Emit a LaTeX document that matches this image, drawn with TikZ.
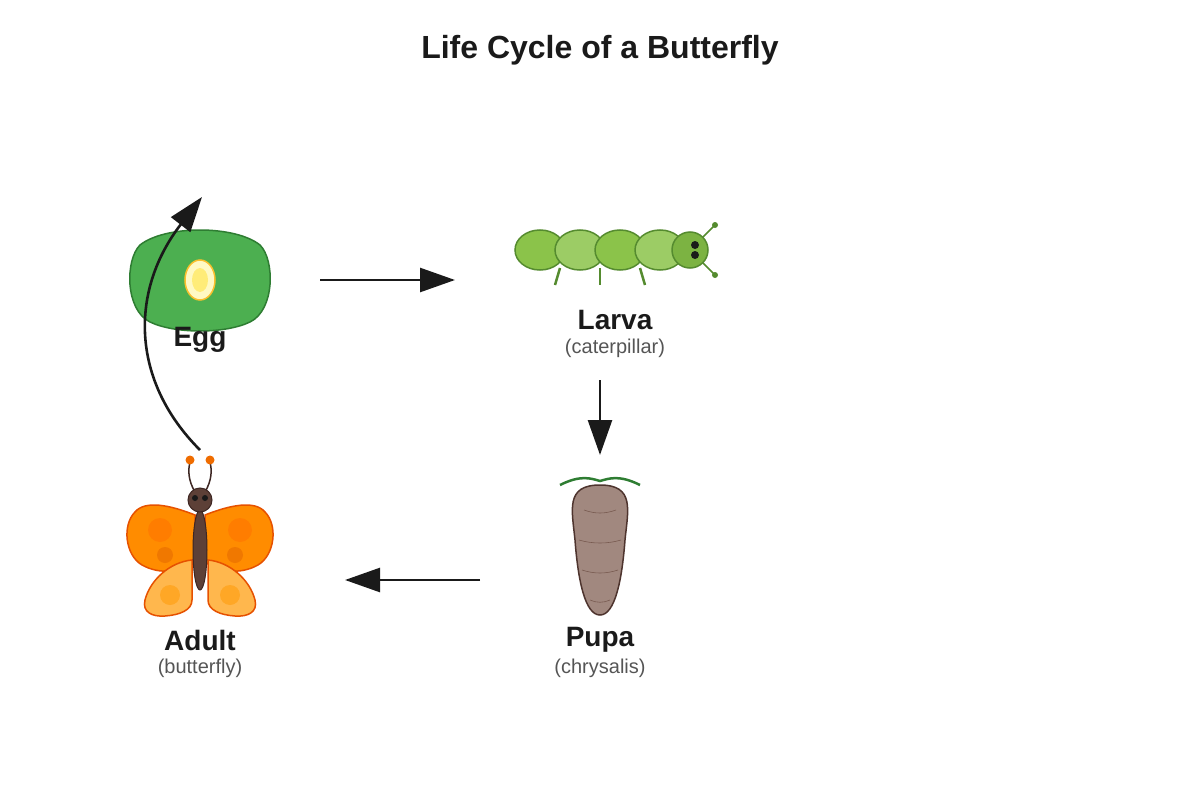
\documentclass[tikz,border=0pt]{standalone}
\usepackage{fontspec}
\setmainfont{Liberation Sans}
\usetikzlibrary{arrows.meta}
\definecolor{txt}{HTML}{1A1A1A}
\definecolor{sub}{HTML}{555555}
\definecolor{eggf}{HTML}{4CAF50}\definecolor{eggd}{HTML}{2E7D32}
\definecolor{yolkf}{HTML}{FFF9C4}\definecolor{yolkd}{HTML}{FBC02D}\definecolor{yolki}{HTML}{FFEC78}
\definecolor{lga}{HTML}{8BC34A}\definecolor{lgb}{HTML}{9CCC65}\definecolor{lgd}{HTML}{558B2F}\definecolor{lgh}{HTML}{7CB342}
\definecolor{pupf}{HTML}{A1887F}\definecolor{pupd}{HTML}{4E342E}\definecolor{pupl}{HTML}{785A50}
\definecolor{wfd}{HTML}{E65100}\definecolor{wf}{HTML}{FF8C00}\definecolor{wsa}{HTML}{FF7D00}\definecolor{wsb}{HTML}{F07800}
\definecolor{wh}{HTML}{FFB74D}\definecolor{whs}{HTML}{FFA726}\definecolor{ant}{HTML}{3E2723}\definecolor{antd}{HTML}{EF6C00}
\definecolor{body}{HTML}{5D4037}
\begin{document}
\begin{tikzpicture}[x=1pt,y=-1pt,
  flow/.style={line width=2.6pt,draw=txt,-{Triangle[length=35pt,width=24pt]}},
  lbl/.style={font=\bfseries\fontsize{28}{30}\selectfont,text=txt},
  sublbl/.style={font=\fontsize{20}{22}\selectfont,text=sub}]
\useasboundingbox (0,0) rectangle (1200,800);
\node[font=\bfseries\fontsize{32}{34}\selectfont,text=txt] (title) at (600,50) {Life Cycle of a Butterfly};
% Egg
\filldraw[fill=eggf,draw=eggd,line width=1.5pt]
 (140,245) .. controls (165,225) and (235,225) .. (260,245) .. controls (275,260) and (275,310) .. (250,322)
 .. controls (225,334) and (175,334) .. (150,322) .. controls (125,310) and (125,260) .. (140,245) -- cycle;
\filldraw[fill=yolkf,draw=yolkd,line width=1.5pt] (200,280) ellipse [x radius=15,y radius=20];
\fill[yolki] (200,280) ellipse [x radius=8,y radius=12];
\node[lbl] (egg) at (200,340) {Egg};
% Larva
\foreach \x/\c in {540/lga,580/lgb,620/lga,660/lgb}{
  \filldraw[fill=\c,draw=lgd,line width=1.5pt] (\x,250) ellipse [x radius=25,y radius=20];}
\begin{scope}[draw=lgd,line width=2.5pt]
\draw (560,268) -- (555,285); \draw (600,268) -- (600,285); \draw (640,268) -- (645,285);
\draw[line width=1.5pt] (702,238) -- (715,225); \draw[line width=1.5pt] (702,262) -- (715,275);
\end{scope}
\fill[lgd] (715,225) circle (3) (715,275) circle (3);
\filldraw[fill=lgh,draw=lgd,line width=1.5pt] (690,250) circle (18);
\fill[txt] (695,245) circle (4) (695,255) circle (4);
\node[lbl] (larva) at (615,320) {Larva};
\node[sublbl] (larvasub) at (615,348) {(caterpillar)};
% Pupa
\draw[eggd,line width=2.5pt] (560,485) .. controls (580,475) and (590,478) .. (600,481) .. controls (610,478) and (620,475) .. (640,485);
\filldraw[fill=pupf,draw=pupd,line width=1.5pt]
 (600,485) .. controls (635,485) and (628,510) .. (625,540) .. controls (622,580) and (615,615) .. (600,615)
 .. controls (585,615) and (578,580) .. (575,540) .. controls (572,510) and (565,485) .. (600,485) -- cycle;
\begin{scope}[draw=pupl,line width=0.6pt]
\draw (584,510) .. controls (595,514) and (605,514) .. (616,510);
\draw (579,540) .. controls (592,544) and (608,544) .. (621,540);
\draw (582,570) .. controls (594,574) and (606,574) .. (618,570);
\draw (590,600) .. controls (596,603) and (604,603) .. (610,600);
\end{scope}
\node[lbl] (pupa) at (600,640) {Pupa};
\node[sublbl] (pupasub) at (600,668) {(chrysalis)};
% Adult
\foreach \s in {1,-1}{
\begin{scope}[xshift=200pt,xscale=\s,line width=1.5pt,draw=wfd]
\filldraw[fill=wf] (-5,515) .. controls (-30,505) and (-55,500) .. (-65,512) .. controls (-78,525) and (-75,555) .. (-58,565) .. controls (-40,575) and (-20,572) .. (-5,562) -- cycle;
\fill[wsa] (-40,530) circle (12);
\fill[wsb] (-35,555) circle (8);
\filldraw[fill=wh] (-8,560) .. controls (-30,562) and (-50,580) .. (-55,600) .. controls (-58,612) and (-48,617) .. (-35,616) .. controls (-20,615) and (-8,610) .. (-8,600) -- cycle;
\fill[whs] (-30,595) circle (10);
\draw[ant] (-5,492) .. controls (-12,480) and (-12,470) .. (-10,462);
\fill[antd] (-10,460) circle (4.5);
\end{scope}}
\filldraw[fill=body,draw=ant,line width=1pt] (200,550) ellipse [x radius=7,y radius=40];
\filldraw[fill=body,draw=ant,line width=1pt] (200,500) circle (12);
\fill[txt] (195,498) circle (3) (205,498) circle (3);
\node[lbl] (adult) at (200,640) {Adult};
\node[sublbl] (adultsub) at (200,668) {(butterfly)};
% Arrows
\coordinate (a1) at (320,280); \coordinate (a2) at (455,280);
\coordinate (b1) at (600,380); \coordinate (b2) at (600,455);
\coordinate (c1) at (480,580); \coordinate (c2) at (345,580);
\coordinate (d1) at (200,450); \coordinate (d2) at (202,197);
\draw[flow] (a1) -- (a2);
\draw[flow] (b1) -- (b2);
\draw[flow] (c1) -- (c2);
\draw[flow] (d1) .. controls (130,380) and (130,290) .. (d2);
\end{tikzpicture}
\end{document}
